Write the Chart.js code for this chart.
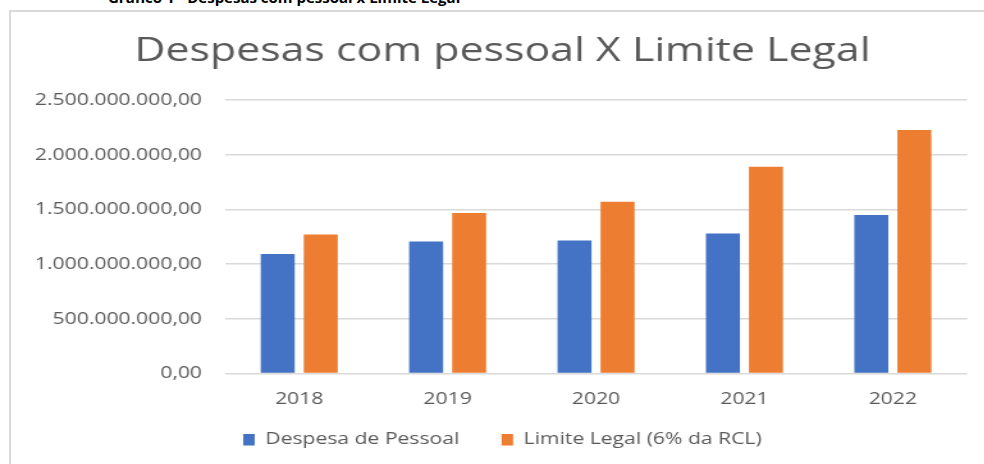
<!DOCTYPE html>
<html>
<head>
<meta charset="utf-8">
<script src="https://cdn.jsdelivr.net/npm/chart.js@4.4.1/dist/chart.umd.min.js"></script>
<style>
  html, body { margin: 0; padding: 0; width: 984px; height: 464px; overflow: hidden; background: #fff; }
  #frame { position: absolute; left: 9px; top: 10px; width: 1000px; height: 470px;
           border-left: 2px solid #d9d9d9; border-top: 2px solid #d9d9d9; }
  #caption { position: absolute; left: 108px; top: -9.75px; font-family: "Open Sans", sans-serif;
             font-weight: bold; font-size: 15px; line-height: 15px; color: #000; white-space: nowrap; }
  #wrap { position: absolute; left: 0; top: 0; width: 785px; height: 458px;
          transform: scaleX(1.28); transform-origin: 0 0; }
  canvas { display: block; }
</style>
</head>
<body>
<div id="frame"></div>
<div id="caption">Gráfico 1 - Despesas com pessoal x Limite Legal</div>
<div id="wrap"><canvas id="c" width="785" height="458"></canvas></div>
<script>
const categories = ['2018', '2019', '2020', '2021', '2022'];
const despesaPessoal = [1094000000, 1208000000, 1217000000, 1281000000, 1449000000];
const limiteLegal = [1272000000, 1468000000, 1572000000, 1891000000, 2228000000];
const yTickValues = [0, 500000000, 1000000000, 1500000000, 2000000000, 2500000000];
const yTickLabels = ['0,00', '500.000.000,00', '1.000.000.000,00', '1.500.000.000,00', '2.000.000.000,00', '2.500.000.000,00'];
const seriesNames = ['Despesa de Pessoal', 'Limite Legal (6% da RCL)'];
const chartTitle = 'Despesas com pessoal X Limite Legal';

function draw() {
  const FONT = '"Open Sans", sans-serif';
  const GRAY = '#595959';
  new Chart(document.getElementById('c'), {
    type: 'bar',
    data: {
      labels: categories,
      datasets: [
        { label: seriesNames[0], data: despesaPessoal, backgroundColor: '#4472C4', borderWidth: 0,
          categoryPercentage: 0.58, barPercentage: 0.79 },
        { label: seriesNames[1], data: limiteLegal, backgroundColor: '#ED7D31', borderWidth: 0,
          categoryPercentage: 0.58, barPercentage: 0.79 }
      ]
    },
    options: {
      responsive: false,
      animation: false,
      devicePixelRatio: 1,
      layout: { padding: 0 },
      plugins: {
        tooltip: { enabled: false },
        title: {
          display: true, text: chartTitle, color: GRAY,
          font: { family: FONT, size: 33.5, weight: 'normal', lineHeight: 1.2 },
          padding: { top: 31, bottom: 29 }
        },
        legend: {
          display: true, position: 'bottom',
          labels: {
            color: GRAY, font: { family: FONT, size: 16.5 },
            boxWidth: 9, boxHeight: 11.5, padding: 33
          }
        }
      },
      scales: {
        x: {
          grid: { display: false, drawTicks: false },
          border: { display: false },
          ticks: { color: GRAY, font: { family: FONT, size: 16.5 }, padding: -35.2, mirror: true },
          afterFit: (s) => { s.height = 25; }
        },
        y: {
          min: 0, max: 2500000000,
          grid: { color: '#d9d9d9', lineWidth: 1.4, drawTicks: false },
          border: { display: false },
          afterBuildTicks: (s) => { s.ticks = yTickValues.map(v => ({ value: v })); },
          ticks: {
            color: GRAY, font: { family: FONT, size: 16.5 }, padding: 18,
            callback: (v) => { const i = yTickValues.indexOf(v); return i >= 0 ? yTickLabels[i] : ''; }
          },
          afterFit: (s) => { s.width = 175.8; }
        },
        yR: {
          position: 'right', display: true,
          grid: { display: false, drawTicks: false },
          border: { display: false },
          ticks: { display: false },
          afterFit: (s) => { s.width = 29.5; }
        }
      }
    }
  });
}
if (document.fonts && document.fonts.load) {
  document.fonts.load('16px "Open Sans"').then(draw, draw);
} else { draw(); }
</script>
</body>
</html>
